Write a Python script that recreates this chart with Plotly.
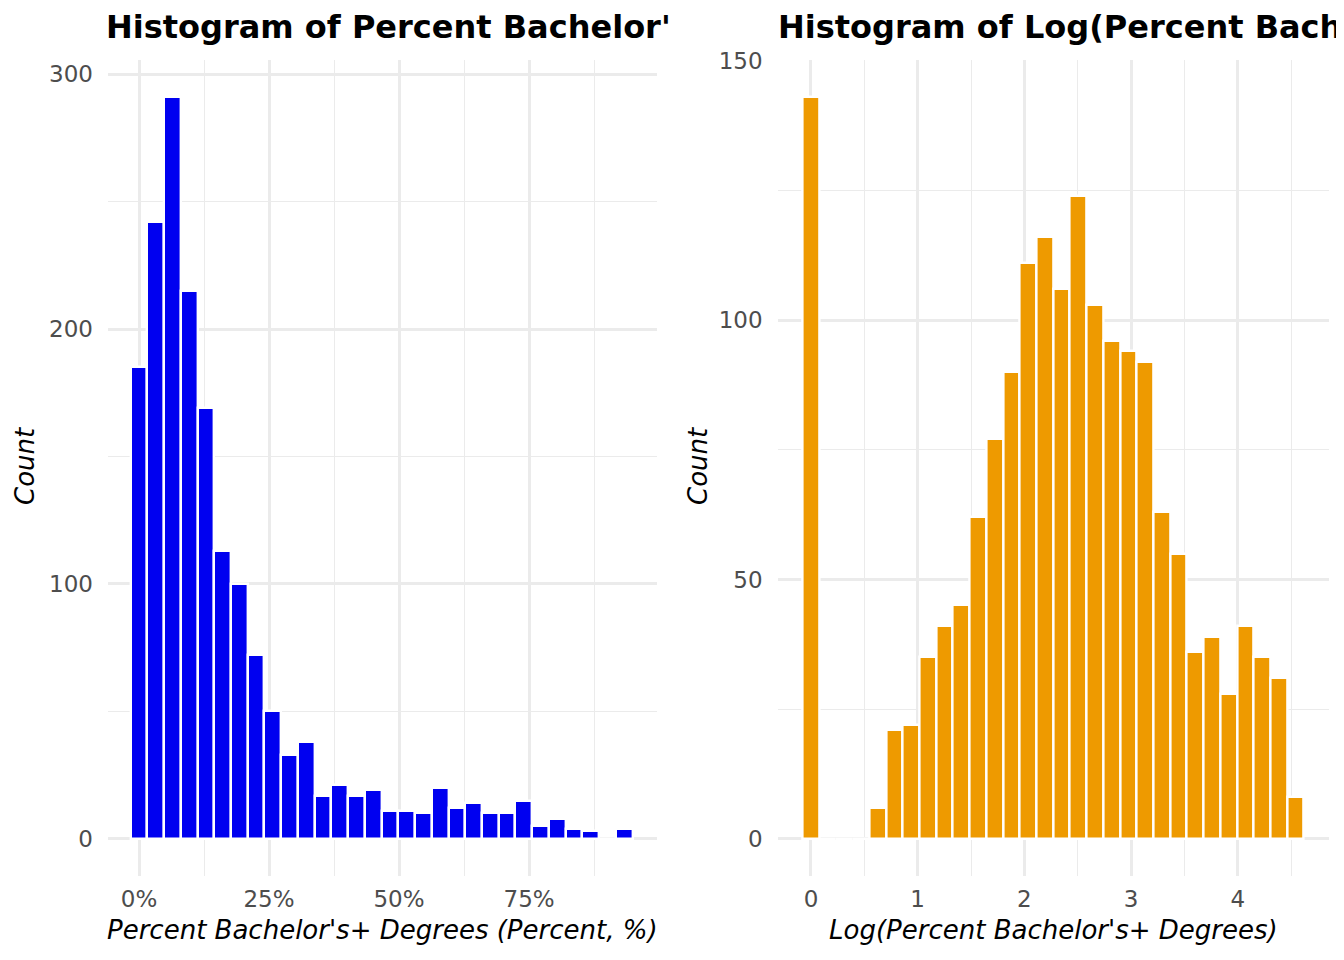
import numpy as np
import plotly.graph_objects as go

# ---- data ----
pct_counts = [185, 242, 291, 215, 169, 113, 100, 72, 50, 33, 38, 17, 21, 17, 19,
              11, 11, 10, 20, 12, 14, 10, 10, 15, 5, 8, 4, 3, 0, 4]
log_counts = [143, 0, 0, 0, 6, 21, 22, 35, 41, 45, 62, 77, 90, 111, 116, 106,
              124, 103, 96, 94, 92, 63, 55, 36, 39, 28, 41, 35, 31, 8]
n_bins = 30
pct_min, pct_max = 0.0, 0.933      # fraction (shown as percent)
log_min, log_max = 0.0, 4.543

pct_ticks = [0, 0.25, 0.5, 0.75]
pct_minor = [0.125, 0.375, 0.625, 0.875]
log_ticks = [0, 1, 2, 3, 4]
log_minor = [0.5, 1.5, 2.5, 3.5, 4.5]
y1_ticks = [0, 100, 200, 300]
y1_minor = [50, 150, 250]
y2_ticks = [0, 50, 100, 150]
y2_minor = [25, 75, 125]

titles = ["Histogram of Percent Bachelor'", "Histogram of Log(Percent Bach"]
x_titles = ["Percent Bachelor's+ Degrees (Percent, %)", "Log(Percent Bachelor's+ Degrees)"]
y_title = "Count"

pct_centers = np.linspace(pct_min, pct_max, n_bins)
log_centers = np.linspace(log_min, log_max, n_bins)
pct_w = (pct_max - pct_min) / (n_bins - 1)
log_w = (log_max - log_min) / (n_bins - 1)

# page has an 8px body margin; size figure to fit the window exactly
OFF = 8
W, H = 1344 - OFF, 960 - OFF
FONT = "DejaVu Sans"
GRID = "#EBEBEB"
TICKC = "#4D4D4D"

fig = go.Figure()
fig.add_trace(go.Bar(x=pct_centers, y=pct_counts, width=pct_w,
                     marker=dict(color="#0000F0", line=dict(color="white", width=2.4)),
                     xaxis="x", yaxis="y", showlegend=False))
fig.add_trace(go.Bar(x=log_centers, y=log_counts, width=log_w,
                     marker=dict(color="#EE9A00", line=dict(color="white", width=2.4)),
                     xaxis="x2", yaxis="y2", showlegend=False))

# panel boxes in screen pixels
L1, R1 = 108, 657
L2, R2 = 777.6, 1329
TOP, BOT = 60, 876


def px(xs):
    return (xs - OFF) / W


def py(ys):
    return 1 - (ys - OFF) / H


common = dict(showline=False, zeroline=False, ticks="", showgrid=True,
              gridcolor=GRID, gridwidth=2.7, automargin=False,
              tickfont=dict(family=FONT, size=23, color=TICKC))
minor_grid = dict(showgrid=True, gridcolor=GRID, gridwidth=1.4)

fig.update_layout(
    width=W, height=H,
    margin=dict(l=0, r=0, t=0, b=0, pad=0, autoexpand=False),
    paper_bgcolor="white", plot_bgcolor="white",
    bargap=0,
    font=dict(family=FONT),
    xaxis=dict(domain=[px(L1), px(R1)], range=[-0.0596, 0.996],
               tickvals=pct_ticks, tickformat=".0%", ticklabelstandoff=7,
               minor=dict(tickvals=pct_minor, **minor_grid),
               anchor="y", **common),
    yaxis=dict(domain=[py(BOT), py(TOP)], range=[-14.55, 305.55],
               tickvals=y1_ticks, ticklabelstandoff=14,
               minor=dict(tickvals=y1_minor, **minor_grid),
               anchor="x", **common),
    xaxis2=dict(domain=[px(L2), px(R2)], range=[-0.313, 4.856],
                tickvals=log_ticks, ticklabelstandoff=7,
                minor=dict(tickvals=log_minor, **minor_grid),
                anchor="y2", **common),
    yaxis2=dict(domain=[py(BOT), py(TOP)], range=[-7.15, 150.15],
                tickvals=y2_ticks, ticklabelstandoff=14,
                minor=dict(tickvals=y2_minor, **minor_grid),
                anchor="x2", **common),
)

ann = []
for i, xl in enumerate([104, 776]):
    ann.append(dict(text="<b>" + titles[i] + "</b>", x=px(xl), y=py(27),
                    xref="paper", yref="paper", xanchor="left", yanchor="middle",
                    showarrow=False, font=dict(family=FONT, size=32, color="black")))
for xc, t in [((L1 + R1) / 2, x_titles[0]), ((L2 + R2) / 2, x_titles[1])]:
    ann.append(dict(text="<i>" + t + "</i>", x=px(xc), y=py(930),
                    xref="paper", yref="paper", xanchor="center", yanchor="middle",
                    showarrow=False, font=dict(family=FONT, size=26, color="black")))
for xc in [25, 698]:
    ann.append(dict(text="<i>" + y_title + "</i>", x=px(xc), y=py(466),
                    xref="paper", yref="paper", xanchor="center", yanchor="middle",
                    textangle=-90, showarrow=False,
                    font=dict(family=FONT, size=26, color="black")))
fig.update_layout(annotations=ann)

fig.write_html("out.html")
